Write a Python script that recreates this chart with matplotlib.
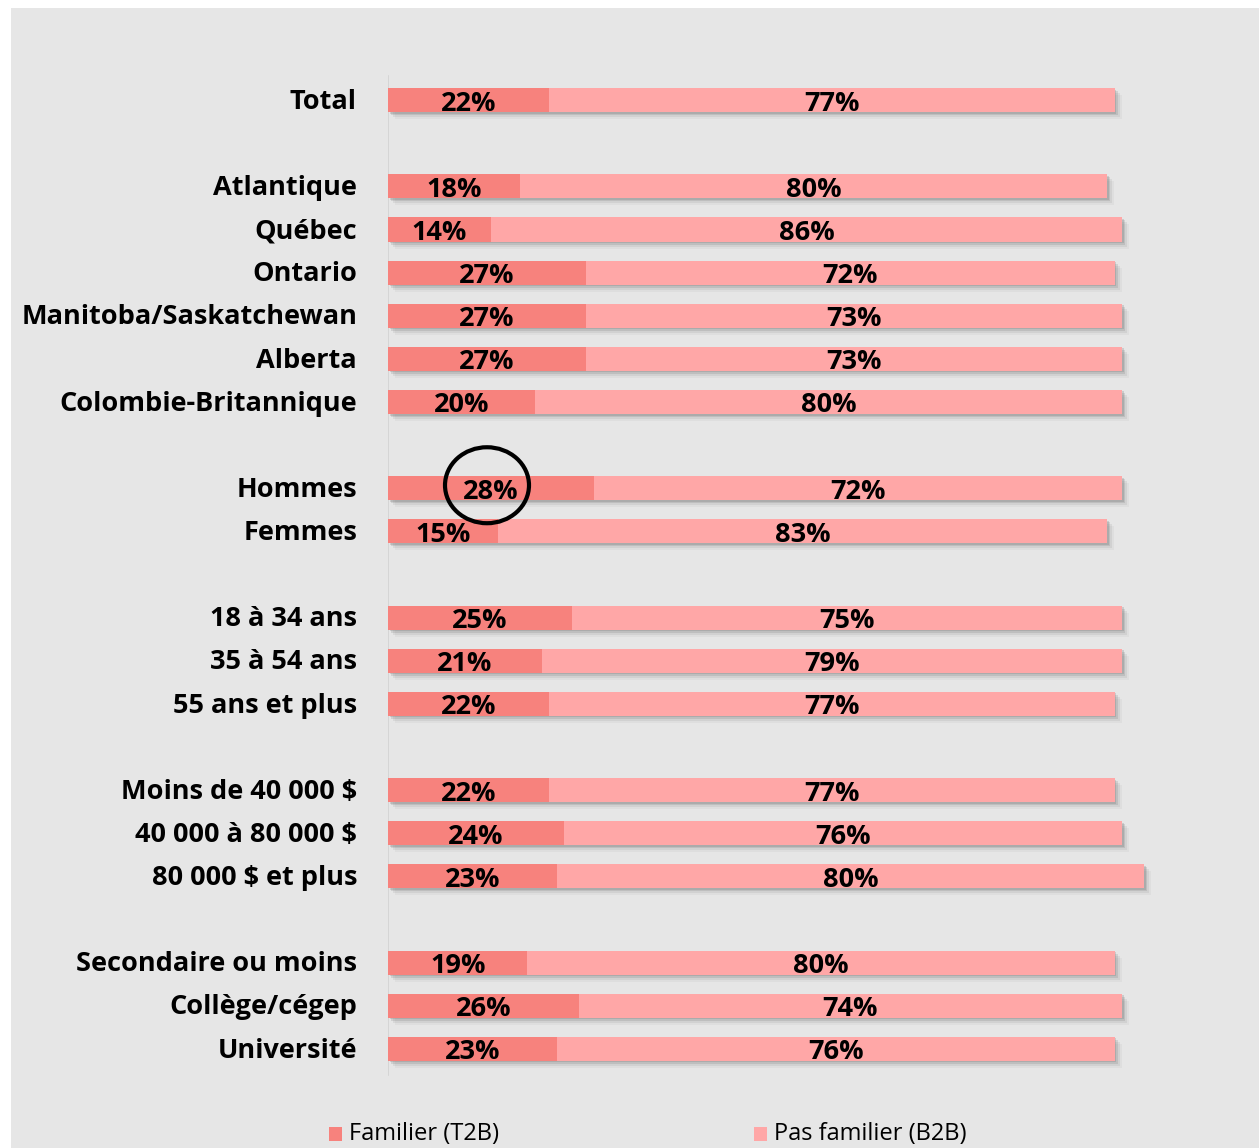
import matplotlib.pyplot as plt
from matplotlib.patches import Rectangle, Ellipse

plt.rcParams['font.family'] = ['Open Sans', 'DejaVu Sans']

# rows (None = blank spacer row)
categories = ['Total', None,
              'Atlantique', 'Québec', 'Ontario', 'Manitoba/Saskatchewan', 'Alberta', 'Colombie-Britannique', None,
              'Hommes', 'Femmes', None,
              '18 à 34 ans', '35 à 54 ans', '55 ans et plus', None,
              'Moins de 40 000 $', '40 000 à 80 000 $', '80 000 $ et plus', None,
              'Secondaire ou moins', 'Collège/cégep', 'Université']
familier = [22, None, 18, 14, 27, 27, 27, 20, None, 28, 15, None, 25, 21, 22, None, 22, 24, 23, None, 19, 26, 23]
pas_familier = [77, None, 80, 86, 72, 73, 73, 80, None, 72, 83, None, 75, 79, 77, None, 77, 76, 80, None, 80, 74, 76]

DARK = '#f7827d'
LIGHT = '#ffa7a7'
BG = '#e6e6e6'

W, H = 1259, 1148
fig = plt.figure(figsize=(W / 100, H / 100), dpi=100)
fig.patch.set_facecolor('white')
fig.patches.append(Rectangle((11 / W, 0), 1 - 11 / W, 1 - 8 / H, transform=fig.transFigure,
                             facecolor=BG, edgecolor='none', zorder=-10))

px = 7.34          # pixels per percent
slot = 43.14       # pixels per row
ax = fig.add_axes([388 / W, 1 - 1092 / H, 1 - 388 / W, 1035 / H])
ax.set_facecolor('none')
ax.set_xlim(0, (W - 388) / px)
ax.set_ylim(23, -1)
ax.axis('off')

ax.plot([0, 0], [-0.55, 22.6], color='#d2d2d2', lw=1.2, zorder=1)

bh = 0.56
for i, (cat, a, b) in enumerate(zip(categories, familier, pas_familier)):
    if cat is None:
        continue
    tot = a + b
    # soft shadow
    for k, al in [(7, 0.06), (5, 0.10), (3, 0.16), (1.5, 0.2)]:
        ax.barh(i + k / slot, tot, height=bh, left=k / px, color='#606060', alpha=al,
                edgecolor='none', zorder=2)
    ax.barh(i, a, height=bh, color=DARK, edgecolor='none', zorder=3)
    ax.barh(i, b, height=bh, left=a, color=LIGHT, edgecolor='none', zorder=3)
    ax.text(a / 2, i + 0.08, f'{a}%', ha='center', va='center', fontsize=19.5,
            fontweight='bold', color='black', zorder=5)
    ax.text(a + b / 2, i + 0.08, f'{b}%', ha='center', va='center', fontsize=19.5,
            fontweight='bold', color='black', zorder=5)
    ax.text(-31 / px, i + 0.04, cat, ha='right', va='center', fontsize=19.5,
            fontweight='bold', color='black', clip_on=False)

# circle highlighting Hommes 28%
hi = categories.index('Hommes')
ax.add_patch(Ellipse((99 / px, hi - 0.07), 84 / px, 76 / slot, fill=False,
                     edgecolor='black', lw=3, zorder=6))

# legend
for x0, lab, col in [(329, 'Familier (T2B)', DARK), (754, 'Pas familier (B2B)', LIGHT)]:
    fig.patches.append(Rectangle((x0 / W, 1 - 1141 / H), 13 / W, 14 / H, transform=fig.transFigure,
                                 facecolor=col, edgecolor='none'))
    fig.text((x0 + 20) / W, 1 - 1134 / H, lab, ha='left', va='center', fontsize=17, color='black')

fig.savefig('out.png', dpi=100, facecolor=fig.get_facecolor())
